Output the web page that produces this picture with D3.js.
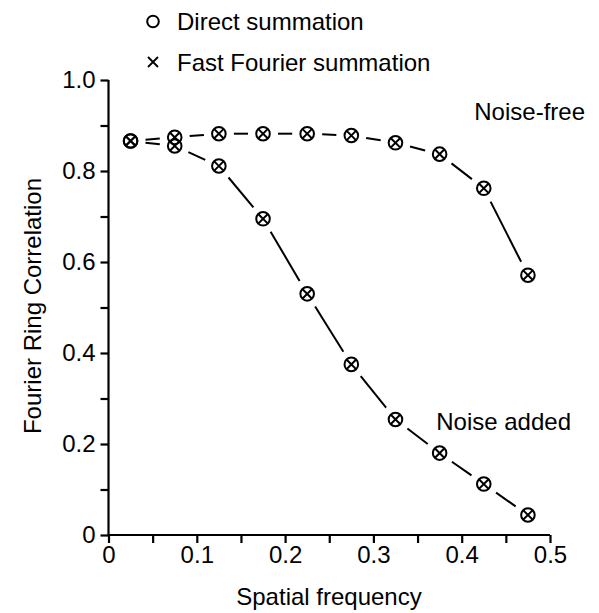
<!DOCTYPE html>
<html><head><meta charset="utf-8">
<script src="https://cdn.jsdelivr.net/npm/d3@7"></script>
<style>body{margin:0;background:#fff}svg{display:block}text{font-family:"Liberation Sans",Arial,sans-serif;fill:#000}</style>
</head><body>
<script>
const freq = [0.025,0.075,0.125,0.175,0.225,0.275,0.325,0.375,0.425,0.475];
const noiseFree = [0.866,0.874,0.882,0.882,0.882,0.878,0.862,0.837,0.762,0.571];
const noiseAdded = [0.866,0.855,0.811,0.695,0.530,0.375,0.254,0.180,0.112,0.044];
const xTicks = [0,0.05,0.1,0.15,0.2,0.25,0.3,0.35,0.4,0.45,0.5];
const yTicks = [0,0.1,0.2,0.3,0.4,0.5,0.6,0.7,0.8,0.9,1.0];
const xLabels = {0:"0",0.1:"0.1",0.2:"0.2",0.3:"0.3",0.4:"0.4",0.5:"0.5"};
const yLabels = {0:"0",0.2:"0.2",0.4:"0.4",0.6:"0.6",0.8:"0.8",1:"1.0"};

const W=599,H=613,FS=24;
const svg=d3.select("body").append("svg").attr("width",W).attr("height",H);
const x=d3.scaleLinear().domain([0,0.5]).range([108.5,550]);
const y=d3.scaleLinear().domain([0,1]).range([535,80]);

const fmt=v=>+v.toFixed(2);
const xa=d3.axisBottom(x).tickValues(xTicks).tickSize(8).tickPadding(3)
  .tickFormat(v=>xLabels[fmt(v)]||"");
const ya=d3.axisLeft(y).tickValues(yTicks).tickSize(8).tickPadding(5)
  .tickFormat(v=>yLabels[fmt(v)]||"");
const gx=svg.append("g").attr("transform","translate(0,535)").call(xa);
const gy=svg.append("g").attr("transform","translate(108.5,0)").call(ya);
[gx,gy].forEach(g=>{
  g.attr("font-size",FS).attr("font-family","Liberation Sans, Arial, sans-serif");
  g.select(".domain").attr("stroke","#000").attr("stroke-width",2.2);
  g.selectAll(".tick line").attr("stroke","#000").attr("stroke-width",2.2);
  g.selectAll(".tick text").attr("font-size",FS).attr("fill","#000");
});
gx.select(".domain").attr("d",`M${x(0)},0H${x(0.5)}`);
gy.select(".domain").attr("d",`M0,${y(0)}V${y(1)}`);

const gap=15;
function drawSeries(vals){
  const pts=freq.map((f,i)=>[x(f),y(vals[i])]);
  const segs=d3.pairs(pts).map(([a,b])=>{
    const dx=b[0]-a[0],dy=b[1]-a[1],L=Math.hypot(dx,dy);
    if(L<=2*gap) return null;
    const ux=dx/L,uy=dy/L;
    return [a[0]+ux*gap,a[1]+uy*gap,b[0]-ux*gap,b[1]-uy*gap];
  }).filter(s=>s);
  svg.append("g").selectAll("line").data(segs).join("line")
    .attr("x1",d=>d[0]).attr("y1",d=>d[1]).attr("x2",d=>d[2]).attr("y2",d=>d[3])
    .attr("stroke","#000").attr("stroke-width",2);
  const m=svg.append("g").selectAll("g").data(pts).join("g")
    .attr("transform",d=>`translate(${d[0]},${d[1]})`);
  m.append("circle").attr("r",6.8).attr("fill","none").attr("stroke","#000").attr("stroke-width",2);
  m.append("path").attr("d","M-4.6,-4.6L4.6,4.6M-4.6,4.6L4.6,-4.6").attr("stroke","#000").attr("stroke-width",2);
}
drawSeries(noiseFree);
drawSeries(noiseAdded);

const lg=svg.append("g");
lg.append("circle").attr("cx",153).attr("cy",21.5).attr("r",5.8).attr("fill","none").attr("stroke","#000").attr("stroke-width",2);
lg.append("text").attr("x",177).attr("y",29.5).attr("font-size",FS).text("Direct summation");
lg.append("path").attr("d","M148,57L158,67M148,67L158,57").attr("stroke","#000").attr("stroke-width",1.8);
lg.append("text").attr("x",177).attr("y",71).attr("font-size",FS).text("Fast Fourier summation");

svg.append("text").attr("x",585).attr("y",120).attr("text-anchor","end").attr("font-size",FS).text("Noise-free");
svg.append("text").attr("x",571).attr("y",430).attr("text-anchor","end").attr("font-size",FS).text("Noise added");

svg.append("text").attr("x",329).attr("y",605).attr("text-anchor","middle").attr("font-size",FS).text("Spatial frequency");
svg.append("text").attr("transform","translate(41,306) rotate(-90)").attr("text-anchor","middle").attr("font-size",FS).text("Fourier Ring Correlation");
</script>
</body></html>
